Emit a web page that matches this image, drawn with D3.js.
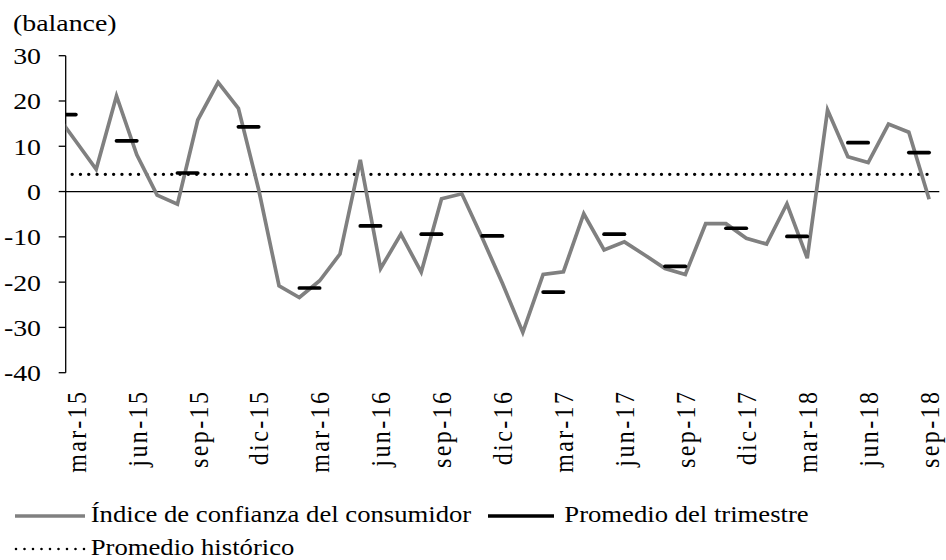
<!DOCTYPE html>
<html>
<head>
<meta charset="utf-8">
<script src="https://cdn.jsdelivr.net/npm/d3@7"></script>
<style>
  body { margin: 0; background: #fff; }
  text { font-family: "Liberation Serif", "Times New Roman", serif; fill: #000; }
</style>
</head>
<body>
<svg id="drawing_region"></svg>
<script>
// monthly index, feb-15 .. sep-18 (feb-15 sits just left of the axis and gets clipped)
const months = [
    "feb-15","mar-15","abr-15","may-15","jun-15","jul-15","ago-15","sep-15","oct-15","nov-15","dic-15",
    "ene-16","feb-16","mar-16","abr-16","may-16","jun-16","jul-16","ago-16","sep-16","oct-16","nov-16","dic-16",
    "ene-17","feb-17","mar-17","abr-17","may-17","jun-17","jul-17","ago-17","sep-17","oct-17","nov-17","dic-17",
    "ene-18","feb-18","mar-18","abr-18","may-18","jun-18","jul-18","ago-18","sep-18"
];
const confianza = [
    17.3, 11.1, 4.9, 21.1, 8.1, -0.8, -2.8, 15.8, 24.1, 18.4, 0.4,
    -20.8, -23.4, -19.7, -13.8, 7.0, -17.0, -9.4, -17.8, -1.6, -0.5, -10.2, -20.3,
    -31.1, -18.3, -17.7, -4.9, -12.9, -11.1, -14.0, -17.0, -18.3, -7.1, -7.1, -10.3,
    -11.6, -2.7, -14.7, 18.0, 7.7, 6.4, 14.9, 13.1, -1.7
];
// quarter averages, drawn over the 2nd and 3rd month of each quarter
const quarters = ["I-15","II-15","III-15","IV-15","I-16","II-16","III-16","IV-16",
                  "I-17","II-17","III-17","IV-17","I-18","II-18","III-18"];
const promTrimestre = [17.0, 11.2, 4.1, 14.3, -21.3, -7.6, -9.4, -9.8,
                       -22.2, -9.4, -16.5, -8.1, -9.9, 10.8, 8.6];
const promHistorico = 3.8;
const tickLabels = ["mar-15","jun-15","sep-15","dic-15","mar-16","jun-16","sep-16","dic-16",
                    "mar-17","jun-17","sep-17","dic-17","mar-18","jun-18","sep-18"];
const yTicks = [-40, -30, -20, -10, 0, 10, 20, 30];

const legendItems = [
    {name: "Índice de confianza del consumidor", type: "gray"},
    {name: "Promedio del trimestre", type: "black"},
    {name: "Promedio histórico", type: "dot"}
];

const STRETCH = 1.16;  // the source picture is a bit wider than tall

class LineChart {
    constructor( config ) {
        this.config = config;
        this.init();
    }
    init() {
        let self = this;
        self.svg = d3.select( self.config.parent )
            .attr('width', self.config.width)
            .attr('height', self.config.height);

        self.xscale = d3.scaleLinear()
            .domain([0.5, months.length - 0.5])
            .range([65.7, 939.3]);
        self.yscale = d3.scaleLinear()
            .domain([-40, 30])
            .range([372.7, 55.7]);

        self.svg.append('clipPath').attr('id', 'plotclip')
            .append('rect')
            .attr('x', self.xscale.range()[0])
            .attr('y', 40)
            .attr('width', self.xscale.range()[1] - self.xscale.range()[0])
            .attr('height', 350);
    }
    text( g, x, y, str, anchor, rotate, size ) {
        return g.append('text')
            .attr('transform', `translate(${x},${y}) scale(${STRETCH},1)` + (rotate ? ` rotate(${rotate})` : ''))
            .attr('text-anchor', anchor)
            .style('font-size', (size || 23) + 'px')
            .text(str);
    }
    render() {
        let self = this;
        const x = self.xscale, y = self.yscale;
        const x0 = x.range()[0], x1 = x.range()[1];

        // y axis
        const yaxis = self.svg.append('g');
        yaxis.append('line')
            .attr('x1', x0).attr('x2', x0)
            .attr('y1', y(30)).attr('y2', y(-40))
            .attr('stroke', '#000').attr('stroke-width', 1.3);
        yaxis.selectAll('line.tick').data(yTicks).enter()
            .append('line').attr('class', 'tick')
            .attr('x1', x0 - 7).attr('x2', x0)
            .attr('y1', d => y(d)).attr('y2', d => y(d))
            .attr('stroke', '#000').attr('stroke-width', 1.3);
        yTicks.forEach(t => {
            self.text(yaxis, 41, y(t), String(t), 'end', 0, 24).attr('dy', '0.35em');
        });
        self.text(self.svg, 13, 30.5, '(balance)', 'start', 0, 24);

        // category axis sits at zero, labels at the bottom
        self.svg.append('line')
            .attr('x1', x0).attr('x2', x1)
            .attr('y1', y(0)).attr('y2', y(0))
            .attr('stroke', '#000').attr('stroke-width', 1.3);
        const xl = self.svg.append('g');
        tickLabels.forEach(lbl => {
            const i = months.indexOf(lbl);
            self.text(xl, x(i), 389.6, lbl, 'end', -90, 24)
                .attr('dy', '0.35em')
                .style('letter-spacing', '2.4px');
        });

        const plot = self.svg.append('g').attr('clip-path', 'url(#plotclip)');

        // historic average
        plot.append('line')
            .attr('x1', x(0)).attr('x2', x(months.length - 1))
            .attr('y1', y(promHistorico)).attr('y2', y(promHistorico))
            .attr('stroke', '#000').attr('stroke-width', 3.4)
            .attr('stroke-linecap', 'round')
            .attr('stroke-dasharray', '0 8.3');

        // consumer confidence
        const line = d3.line()
            .x((d, i) => x(i))
            .y(d => y(d));
        plot.append('path')
            .datum(confianza)
            .attr('d', line)
            .attr('fill', 'none')
            .attr('stroke', '#808080')
            .attr('stroke-width', 3.7)
            .attr('stroke-linejoin', 'miter');

        // quarter averages
        plot.selectAll('line.q').data(promTrimestre).enter()
            .append('line').attr('class', 'q')
            .attr('x1', (d, k) => x(3 * k))
            .attr('x2', (d, k) => x(3 * k + 1))
            .attr('y1', d => y(d)).attr('y2', d => y(d))
            .attr('stroke', '#000').attr('stroke-width', 3.7)
            .attr('stroke-linecap', 'round');

        // legend
        const lg = self.svg.append('g');
        const pos = [
            {sx: 15, ex: 85, ty: 522, tx: 90.7},
            {sx: 488, ex: 554, ty: 522, tx: 564.3},
            {sx: 15, ex: 85, ty: 555, tx: 90.7}
        ];
        legendItems.forEach((it, k) => {
            const p = pos[k];
            const ly = p.ty - 6;
            const l = lg.append('line')
                .attr('x1', p.sx).attr('x2', p.ex)
                .attr('y1', ly).attr('y2', ly);
            if (it.type === 'gray') {
                l.attr('stroke', '#808080').attr('stroke-width', 3.7);
            } else if (it.type === 'black') {
                l.attr('stroke', '#000').attr('stroke-width', 3.7);
            } else {
                l.attr('x1', p.sx + 1).attr('stroke', '#000').attr('stroke-width', 2.6)
                    .attr('stroke-linecap', 'round').attr('stroke-dasharray', '0 8.5');
            }
            self.text(lg, p.tx, p.ty, it.name, 'start');
        });
    }
}

const chart = new LineChart({ parent: '#drawing_region', width: 946, height: 560 });
chart.render();
</script>
</body>
</html>
